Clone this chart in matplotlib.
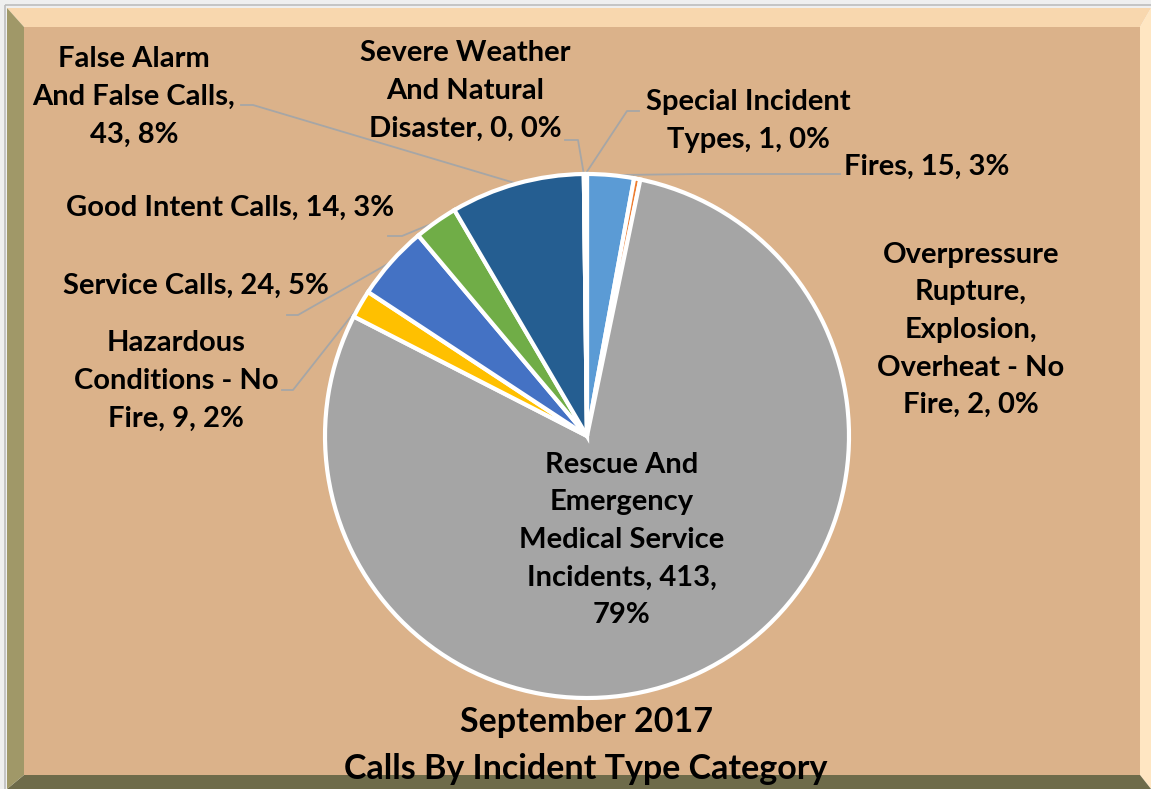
import numpy as np
import matplotlib.pyplot as plt
from matplotlib.patches import Polygon, Rectangle

plt.rcParams['font.family'] = ['Lato', 'DejaVu Sans']

# data, clockwise from 12 o'clock
categories = ['Fires', 'Overpressure Rupture, Explosion, Overheat - No Fire',
              'Rescue And Emergency Medical Service Incidents',
              'Hazardous Conditions - No Fire', 'Service Calls',
              'Good Intent Calls', 'False Alarm And False Calls',
              'Severe Weather And Natural Disaster', 'Special Incident Types']
counts = [15, 2, 413, 9, 24, 14, 43, 0, 1]
colors = ['#5B9BD5', '#ED7D31', '#A5A5A5', '#FFC000', '#4472C4',
          '#70AD47', '#255E91', '#9E480E', '#636363']
# label text as wrapped in the chart
label_lines = [
    ['Fires, 15, 3%'],
    ['Overpressure', 'Rupture,', 'Explosion,', 'Overheat - No', 'Fire, 2, 0%'],
    ['Rescue And', 'Emergency', 'Medical Service', 'Incidents, 413,', '79%'],
    ['Hazardous', 'Conditions - No', 'Fire, 9, 2%'],
    ['Service Calls, 24, 5%'],
    ['Good Intent Calls, 14, 3%'],
    ['False Alarm', 'And False Calls,', '43, 8%'],
    ['Severe Weather', 'And Natural', 'Disaster, 0, 0%'],
    ['Special Incident', 'Types, 1, 0%'],
]
title_lines = ['September 2017', 'Calls By Incident Type Category']

W, H = 1151, 789
CX, CY, R = 587, 436, 262
FS = 21


def px(x, y):
    # pixel position -> pie data coords
    return (x - CX) / R, (CY - y) / R


fig = plt.figure(figsize=(W / 100, H / 100), dpi=100)
fig.patch.set_facecolor('#EFEFEF')

# bevelled frame
bg = fig.add_axes([0, 0, 1, 1])
bg.set_xlim(0, W)
bg.set_ylim(H, 0)
bg.axis('off')
x0, y0, x1, y1 = 7, 8, W, H
xi0, yi0, xi1, yi1 = 24, 27, 1140, 775
bg.add_patch(Rectangle((5, 5), W, H, fc='none', ec='#BDBDBD', lw=1.2))
bg.add_patch(Polygon([(x0, y0), (x1, y0), (xi1, yi0), (xi0, yi0)], fc='#F8D7AE', ec='none'))
bg.add_patch(Polygon([(x1, y0), (x1, y1), (xi1, yi1), (xi1, yi0)], fc='#FFE6C2', ec='none'))
bg.add_patch(Polygon([(x0, y1), (x1, y1), (xi1, yi1), (xi0, yi1)], fc='#6E6B4A', ec='none'))
bg.add_patch(Polygon([(x0, y0), (xi0, yi0), (xi0, yi1), (x0, y1)], fc='#A09868', ec='none'))
bg.add_patch(Rectangle((xi0, yi0), xi1 - xi0, yi1 - yi0, fc='#DBB28A', ec='none'))

ax = fig.add_axes([0, 0, 1, 1])
wedges, _ = ax.pie(counts, colors=colors, startangle=90, counterclock=False,
                   radius=1.0, wedgeprops=dict(edgecolor='white', linewidth=3))
ax.set_aspect('auto')
ax.set_xlim(-CX / R, (W - CX) / R)
ax.set_ylim(-(H - CY) / R, CY / R)
ax.axis('off')

# label block centres (px)
label_pos = [(927, 167), (971, 330), (622, 540), (176, 381), (196, 286),
             (230, 208), (134, 97), (465, 91), (748, 121)]
for lines, (lx, ly) in zip(label_lines, label_pos):
    tx, ty = px(lx, ly)
    ax.text(tx, ty, '\n'.join(lines), ha='center', va='center',
            multialignment='center', fontsize=FS, fontweight='bold',
            color='black', linespacing=1.55)

# leader lines: label side elbows (px), end at the wedge's rim midpoint
leaders = {0: [(840, 174), (700, 174)],
           3: [(282, 390), (293, 390)],
           4: [(287, 315), (298, 315)],
           5: [(388, 236), (402, 236)],
           6: [(241, 105), (253, 105)],
           7: [(565, 140), (578, 140)],
           8: [(639, 111), (627, 111)]}
total = sum(counts)
cum = np.cumsum([0] + counts)
for i, pts in leaders.items():
    mid = np.deg2rad(90 - (cum[i] + counts[i] / 2) / total * 360)
    xs = [px(*p)[0] for p in pts] + [np.cos(mid)]
    ys = [px(*p)[1] for p in pts] + [np.sin(mid)]
    ax.plot(xs, ys, color='#A6A6A6', lw=1.3, zorder=0.5)

for k, line in enumerate(title_lines):
    tx, ty = px(586, 722 + 47 * k)
    ax.text(tx, ty, line, ha='center', va='center', fontsize=24.5,
            fontweight='bold', color='black')

fig.savefig('out.png', dpi=100, facecolor=fig.get_facecolor())
